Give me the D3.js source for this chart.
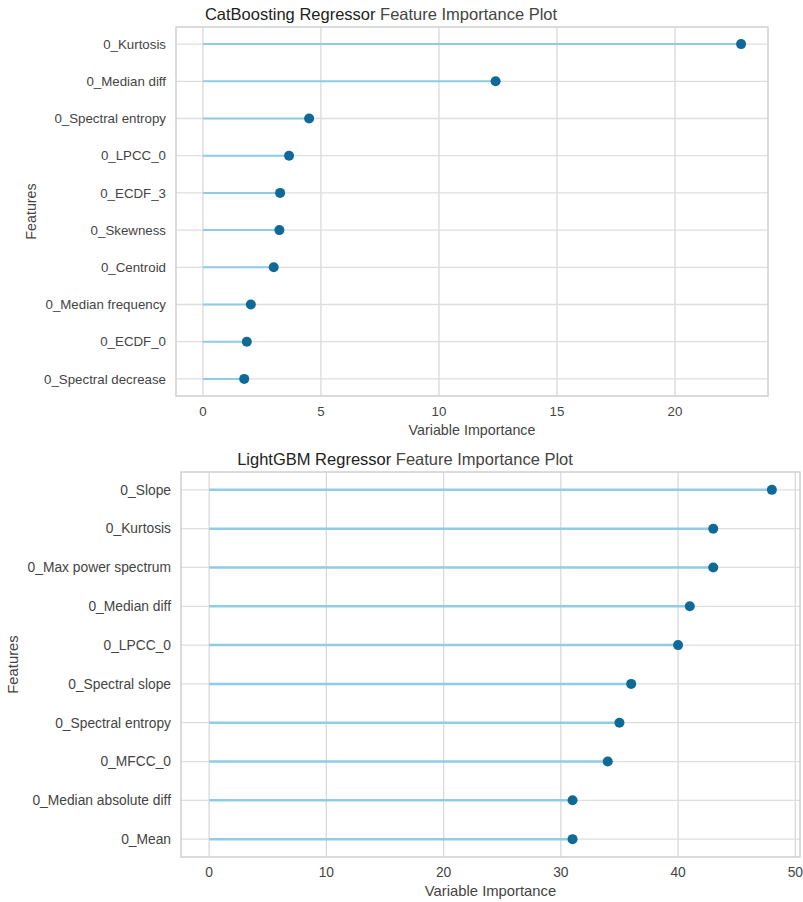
<!DOCTYPE html>
<html>
<head>
<meta charset="utf-8">
<script src="https://cdn.jsdelivr.net/npm/d3@7"></script>
<style>
  body { margin: 0; background: #fff; }
  svg { display: block; font-family: "Liberation Sans", Arial, sans-serif; }
</style>
</head>
<body>
<svg id="chart" width="803" height="902"></svg>
<script>
// data
const catFeatures = ["0_Kurtosis", "0_Median diff", "0_Spectral entropy", "0_LPCC_0", "0_ECDF_3",
  "0_Skewness", "0_Centroid", "0_Median frequency", "0_ECDF_0", "0_Spectral decrease"];
const catValues = [22.8, 12.4, 4.5, 3.65, 3.27, 3.24, 3.0, 2.03, 1.86, 1.75];
const catTicks = [0, 5, 10, 15, 20];

const lgbFeatures = ["0_Slope", "0_Kurtosis", "0_Max power spectrum", "0_Median diff", "0_LPCC_0",
  "0_Spectral slope", "0_Spectral entropy", "0_MFCC_0", "0_Median absolute diff", "0_Mean"];
const lgbValues = [48, 43, 43, 41, 40, 36, 35, 34, 31, 31];
const lgbTicks = [0, 10, 20, 30, 40, 50];

const svg = d3.select("#chart");

const drawLollipop = (cfg) => {
  const { left, top, right, bottom, features, values, ticks, fs } = cfg;
  const g = svg.append("g");

  // matplotlib style 5% margins on the data range
  const maxV = d3.max(values);
  const x = d3.scaleLinear()
    .domain([-maxV * 0.05, maxV * 1.05])
    .range([left, right]);

  const y = d3.scalePoint()
    .domain(features)
    .range([top, bottom])
    .padding(0.46);

  // vertical grid
  g.selectAll(".vgrid")
    .data(ticks)
    .enter()
    .append("line")
    .attr("x1", d => x(d)).attr("x2", d => x(d))
    .attr("y1", top).attr("y2", bottom)
    .attr("stroke", "#d9d9d9")
    .attr("stroke-width", 1.3);

  // horizontal grid
  g.selectAll(".hgrid")
    .data(features)
    .enter()
    .append("line")
    .attr("x1", left).attr("x2", right)
    .attr("y1", d => y(d)).attr("y2", d => y(d))
    .attr("stroke", "#dedede")
    .attr("stroke-width", 1.3);

  // frame
  g.append("rect")
    .attr("x", left).attr("y", top)
    .attr("width", right - left).attr("height", bottom - top)
    .attr("fill", "none")
    .attr("stroke", "#cfcfcf")
    .attr("stroke-width", 1.5);

  // stems
  g.selectAll(".stem")
    .data(features)
    .enter()
    .append("line")
    .attr("x1", x(0))
    .attr("x2", (d, i) => x(values[i]))
    .attr("y1", d => y(d)).attr("y2", d => y(d))
    .attr("stroke", "#8fcce6")
    .attr("stroke-width", cfg.stemW);

  // dots
  g.selectAll(".dot")
    .data(features)
    .enter()
    .append("circle")
    .attr("cx", (d, i) => x(values[i]))
    .attr("cy", d => y(d))
    .attr("r", 5)
    .attr("fill", "#0f6a98");

  // y tick labels
  g.selectAll(".ylab")
    .data(features)
    .enter()
    .append("text")
    .attr("x", left - 10)
    .attr("y", d => y(d))
    .attr("dy", "0.35em")
    .attr("text-anchor", "end")
    .style("font-size", fs + "px")
    .style("fill", "#444")
    .text(d => d);

  // x tick labels
  g.selectAll(".xlab")
    .data(ticks)
    .enter()
    .append("text")
    .attr("x", d => x(d))
    .attr("y", bottom + 20)
    .attr("text-anchor", "middle")
    .style("font-size", fs + "px")
    .style("fill", "#444")
    .text(d => d);

  // axis titles
  g.append("text")
    .attr("x", (left + right) / 2)
    .attr("y", bottom + 39)
    .attr("text-anchor", "middle")
    .style("font-size", (fs + 1) + "px")
    .style("fill", "#444")
    .text("Variable Importance");

  g.append("text")
    .attr("transform", `translate(${cfg.ylabX}, ${(top + bottom) / 2}) rotate(-90)`)
    .attr("text-anchor", "middle")
    .style("font-size", (fs + 1) + "px")
    .style("fill", "#444")
    .text("Features");

  // title
  const title = g.append("text")
    .attr("x", cfg.titleX)
    .attr("y", cfg.titleY)
    .attr("text-anchor", "middle")
    .style("font-size", "16.5px");
  title.append("tspan").style("fill", "#222").text(cfg.model);
  title.append("tspan").style("fill", "#444").text(" Feature Importance Plot");
};

drawLollipop({
  left: 176, top: 27, right: 768, bottom: 396,
  features: catFeatures, values: catValues, ticks: catTicks,
  fs: 13.3, stemW: 2, ylabX: 36, titleX: 381, titleY: 20,
  model: "CatBoosting Regressor"
});

drawLollipop({
  left: 181, top: 472, right: 800, bottom: 857,
  features: lgbFeatures, values: lgbValues, ticks: lgbTicks,
  fs: 13.8, stemW: 2.5, ylabX: 18, titleX: 405, titleY: 465,
  model: "LightGBM Regressor"
});
</script>
</body>
</html>
